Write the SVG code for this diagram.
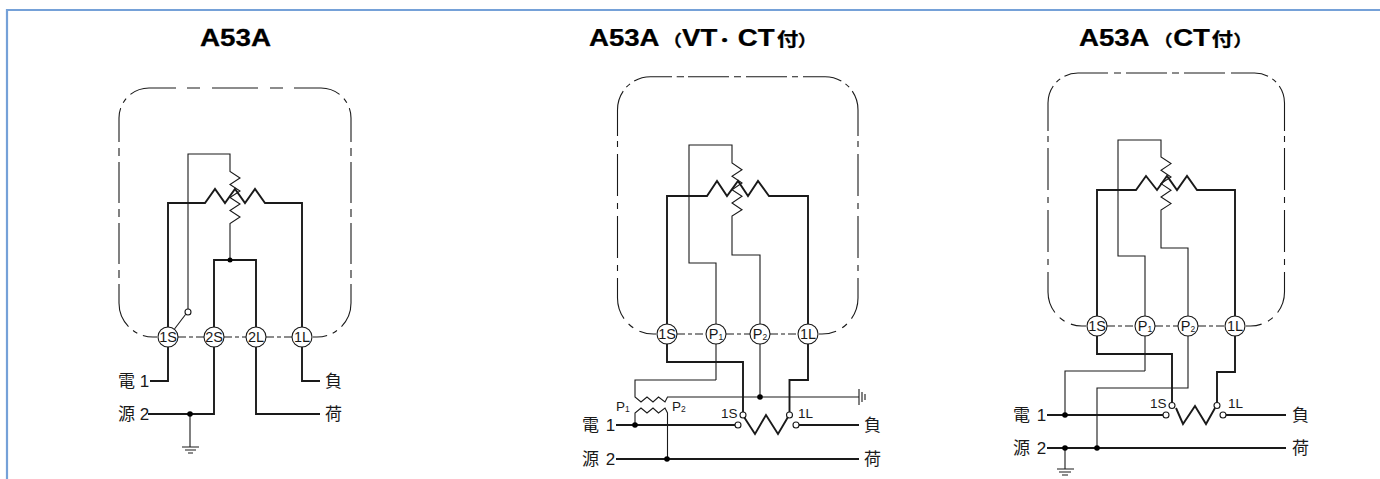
<svg xmlns="http://www.w3.org/2000/svg" width="1380" height="479" viewBox="0 0 1380 479">
<style>
text{font-family:"Liberation Sans","Noto Sans CJK JP",sans-serif;fill:#1a1a1a}
.title{font-size:23px;font-weight:700;fill:#000;stroke:#000;stroke-width:.25}
.tj{font-size:18px}
.td{font-size:16px}
.lbl{font-size:17px}
.wide{word-spacing:2px}
.t{font-size:14.500px;text-anchor:middle}
.s{font-size:13.500px}
.sub{font-size:8.500px}
path,line{fill:none;stroke:#1a1a1a;stroke-linejoin:miter}
.w{stroke-width:1.1}
.k{stroke-width:1.9}
.b{stroke-width:1.1}
.d1{stroke-dasharray:8 6 41 6}
.d2{stroke-dasharray:47 6 5 6 100}
.d3{stroke-dasharray:45 6 5 6 100}
.d4{stroke-dasharray:42 7 6 7}
.d5{stroke-dasharray:6 5 46 5 5 5 100}
.bt{stroke-width:1.1;stroke-dasharray:8 3 4 3}
.term{fill:#fff;stroke:#1a1a1a;stroke-width:1.1}
.dot{fill:#000}
.o{fill:#fff;stroke:#1a1a1a;stroke-width:1.1}
</style>
<path id="frame" d="M7 479V10H1380" style="stroke:#75a1d8;stroke-width:2.200"/>
<g id="titles">
<text class="title" transform="translate(200,46) scale(1.21,1)">A53A</text>
<text class="title" transform="translate(589,46) scale(1.2,1)">A53A<tspan class="td" x="61.500">（</tspan><tspan x="77.500">VT</tspan><tspan class="td" x="105">・</tspan><tspan x="124">CT</tspan> <tspan class="tj" x="156.500">付</tspan><tspan class="td" x="174">）</tspan></text>
<text class="title" transform="translate(1079,46) scale(1.2,1)">A53A<tspan class="td" x="62">（</tspan><tspan x="78.500">CT</tspan> <tspan class="tj" x="110.500">付</tspan><tspan class="td" x="128.500">）</tspan></text>
</g>
<g id="connectors">
<path class="b" d="M187 88H200M212 88H258M270 88H283"/>
<path class="b d2" d="M176 88H149A30 30 0 0 0 119 118V142"/>
<path class="b d2" d="M294 88H321A30 30 0 0 1 351 118V142"/>
<path class="b d1" d="M119 148V278"/>
<path class="b d1" d="M351 148V278"/>
<path class="b d3" d="M119 284V303A34 34 0 0 0 153 337H157"/>
<path class="b d3" d="M351 284V303A34 34 0 0 1 317 337H313"/>
<path class="bt" d="M178 337H204M224 337H246M266 337H292"/>
<path class="k" d="M150 381H168V203H205L215 189L225 203L235 189L245 203L255 189L265 203H302V381H320"/>
<path class="w" d="M188 309V154H230V171.500L240 178L230 184.500L240 191L230 197.500L240 204L230 210.500L240 217L230 223.500V260"/>
<path class="w" d="M185.500 314.500L174.500 329"/>
<path class="k" d="M148 414H214V260H256V414H320"/>
<path class="w" d="M190 414V447M182 447H199M185 450H196M188 453H193"/>

<path class="b" d="M676.700 76.700H684M688 76.700H729M734 76.700H741M746 76.700H787M792 76.700H798"/>
<path class="b d5" d="M617.500 147V110A33 33 0 0 1 650.500 76.700H672"/>
<path class="b d5" d="M858 147V110A33 33 0 0 0 825 76.700H803"/>
<path class="b d4" d="M617.500 154V298A36 36 0 0 0 653.500 334H656"/>
<path class="b d4" d="M858 154V298A36 36 0 0 1 822 334H819"/>
<path class="bt" d="M677 334H706M726 334H750M770 334H798"/>
<path class="k" d="M743 412V362H667V196H707L717 181L727 196L738 181L748 196L758 181L769 196H808V380H789.500V412"/>
<path class="w" d="M716 380V263H689V145H732V163L742 169.700L732 176.300L742 183L732 189.700L742 196.300L732 203L742 209.700L732 216V255H760V397"/>
<path class="w" d="M716 380H635V397L641 402L647 397L653 402L658.500 397L665 402L667.500 397H859M859 389V405M862 392V402M865 394V400"/>
<path class="w" d="M635 425V413L641 408L647 413L653 408L658.500 413L665 408L667.500 413V459"/>
<path class="k" d="M616 425H735M799 425H859M616 459H859"/>
<path class="k" d="M744 417L755 434L766 415L778 434L788 417"/>

<path class="b" d="M1114 73H1121M1126 73H1167M1172 73H1179M1184 73H1225"/>
<path class="b d5" d="M1048 142V103A30 30 0 0 1 1078 73H1108"/>
<path class="b d5" d="M1284.500 142V103A30 30 0 0 0 1254.500 73H1231"/>
<path class="b d4" d="M1048 148V292A34 34 0 0 0 1082 326H1086"/>
<path class="b d4" d="M1284.500 148V292A34 34 0 0 1 1250.500 326H1246"/>
<path class="bt" d="M1107 326H1135M1155 326H1178M1198 326H1225"/>
<path class="k" d="M1172 403V354H1097V190H1136L1146 176L1157 190L1167 176L1177 190L1187 176L1197 190H1235V372H1217V403"/>
<path class="w" d="M1145 371V256H1118V140H1161V157L1171 163.600L1161 170.200L1171 177L1161 183.600L1171 190.200L1161 197L1171 203.600L1161 210V248H1188V388H1097V448"/>
<path class="w" d="M1145 371H1065V415"/>
<path class="k" d="M1047 415H1163M1226 415H1286M1047 448H1286"/>
<path class="k" d="M1176 408L1183 424L1195 406L1206 424L1215 408"/>
<path class="w" d="M1065 448V469M1057 469H1074M1059 472H1071M1062 475H1068"/>
</g>
<g id="diagram-a53a">
<circle class="dot" cx="230" cy="260" r="2.500"/>
<circle class="dot" cx="190" cy="414" r="2.800"/>
<circle class="o" cx="188" cy="312" r="3"/>
<g id="a-1s"><circle class="term" cx="168" cy="337" r="10"/><text class="t" x="168" y="342">1S</text></g>
<g id="a-2s"><circle class="term" cx="214" cy="337" r="10"/><text class="t" x="214" y="342">2S</text></g>
<g id="a-2l"><circle class="term" cx="256" cy="337" r="10"/><text class="t" x="256" y="342">2L</text></g>
<g id="a-1l"><circle class="term" cx="302" cy="337" r="10"/><text class="t" x="302" y="342">1L</text></g>
<text class="lbl" x="118" y="387">電 1</text>
<text class="lbl" x="118" y="420">源 2</text>
<text class="lbl" x="325" y="387">負</text>
<text class="lbl" x="325" y="420">荷</text>
</g>
<g id="diagram-vt-ct">
<circle class="dot" cx="760" cy="397" r="2.800"/>
<circle class="dot" cx="635" cy="425" r="2.800"/>
<circle class="dot" cx="667" cy="459" r="2.800"/>
<circle class="o" cx="743" cy="415" r="3"/>
<circle class="o" cx="789.500" cy="415" r="3"/>
<circle class="o" cx="738" cy="425" r="3"/>
<circle class="o" cx="796" cy="425" r="3"/>
<g id="b-1s"><circle class="term" cx="667" cy="334" r="10"/><text class="t" x="667" y="339">1S</text></g>
<g id="b-p1"><circle class="term" cx="716" cy="334" r="10"/><text class="t" x="716" y="339">P<tspan class="sub" dy="1">1</tspan></text></g>
<g id="b-p2"><circle class="term" cx="760" cy="334" r="10"/><text class="t" x="760" y="339">P<tspan class="sub" dy="1">2</tspan></text></g>
<g id="b-1l"><circle class="term" cx="808" cy="334" r="10"/><text class="t" x="808" y="339">1L</text></g>
<text class="s" x="616" y="411">P<tspan class="sub" dy="1">1</tspan></text>
<text class="s" x="672" y="411">P<tspan class="sub" dy="1">2</tspan></text>
<text class="s" x="721" y="418">1S</text>
<text class="s" x="798" y="418">1L</text>
<text class="lbl wide" x="582" y="431">電 1</text>
<text class="lbl wide" x="582" y="465">源 2</text>
<text class="lbl" x="864" y="431">負</text>
<text class="lbl" x="864" y="465">荷</text>
</g>
<g id="diagram-ct">
<circle class="dot" cx="1065" cy="415" r="2.800"/>
<circle class="dot" cx="1065" cy="448" r="2.800"/>
<circle class="dot" cx="1097" cy="448" r="2.800"/>
<circle class="o" cx="1172" cy="405.500" r="3"/>
<circle class="o" cx="1217" cy="405.500" r="3"/>
<circle class="o" cx="1166" cy="415" r="3"/>
<circle class="o" cx="1223" cy="415" r="3"/>
<g id="c-1s"><circle class="term" cx="1097" cy="326" r="10"/><text class="t" x="1097" y="331">1S</text></g>
<g id="c-p1"><circle class="term" cx="1145" cy="326" r="10"/><text class="t" x="1145" y="331">P<tspan class="sub" dy="1">1</tspan></text></g>
<g id="c-p2"><circle class="term" cx="1188" cy="326" r="10"/><text class="t" x="1188" y="331">P<tspan class="sub" dy="1">2</tspan></text></g>
<g id="c-1l"><circle class="term" cx="1235" cy="326" r="10"/><text class="t" x="1235" y="331">1L</text></g>
<text class="s" x="1150" y="408">1S</text>
<text class="s" x="1228" y="408">1L</text>
<text class="lbl wide" x="1013" y="421">電 1</text>
<text class="lbl wide" x="1013" y="454">源 2</text>
<text class="lbl" x="1292" y="421">負</text>
<text class="lbl" x="1292" y="454">荷</text>
</g>
</svg>
